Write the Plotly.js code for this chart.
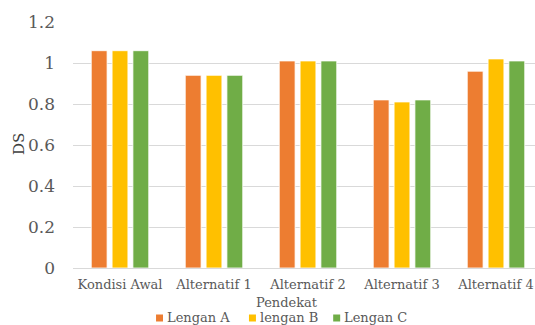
<!DOCTYPE html>
<html>
<head>
<meta charset="utf-8">
<script src="https://cdn.plot.ly/plotly-3.0.1.min.js"></script>
<style>
html,body{margin:0;padding:0;background:#fff;overflow:hidden;}
#chart{width:547px;height:325px;}
</style>
</head>
<body>
<div id="chart"></div>
<script>
var categories = ["Kondisi Awal", "Alternatif 1", "Alternatif 2", "Alternatif 3", "Alternatif 4"];
var seriesNames = ["Lengan A", "lengan B", "Lengan C"];
var lenganA = [1.06, 0.94, 1.01, 0.82, 0.96];
var lenganB = [1.06, 0.94, 1.01, 0.81, 1.02];
var lenganC = [1.06, 0.94, 1.01, 0.82, 1.01];
var yTicks = [0, 0.2, 0.4, 0.6, 0.8, 1, 1.2];
var yTickLabels = ["0", "0.2", "0.4", "0.6", "0.8", "1", "1.2"];
var xTitle = "Pendekat";
var yTitle = "DS";

var colors = ["#ED7D31", "#FFC000", "#70AD47"];
var values = [lenganA, lenganB, lenganC];
var font = "DejaVu Serif";

// plot area in pixels
var PL = 72.6, PR = 543, PT = 22, PB = 268;
function px(x) { return (x - PL) / (PR - PL); }
function py(y) { return (PB - y) / (PB - PT); }

var traces = values.map(function (v, i) {
  return {
    type: "bar",
    x: categories,
    y: v,
    name: seriesNames[i],
    marker: {color: colors[i], line: {color: "#ffffff", width: 0.8}},
    showlegend: false,
    hoverinfo: "x+y+name"
  };
});

// custom legend (small square keys placed close to text, like the original)
var legendKeyX = [155.7, 248.7, 333];
var shapes = [];
var annotations = [{
  text: xTitle,
  xref: "paper", yref: "paper",
  x: px(287), y: py(302),
  xanchor: "center", yanchor: "middle",
  showarrow: false,
  font: {family: font, size: 13, color: "#595959"}
}];
seriesNames.forEach(function (n, i) {
  var kx = legendKeyX[i];
  shapes.push({
    type: "rect", xref: "paper", yref: "paper",
    x0: px(kx), x1: px(kx + 7), y0: py(321.5), y1: py(314.5),
    fillcolor: colors[i], line: {width: 0}
  });
  annotations.push({
    text: n,
    xref: "paper", yref: "paper",
    x: px(kx + 9), y: py(317),
    xanchor: "left", yanchor: "middle",
    showarrow: false,
    font: {family: font, size: 13, color: "#595959"}
  });
});

var layout = {
  width: 547,
  height: 325,
  margin: {l: PL, r: 547 - PR, t: PT, b: 325 - PB, autoexpand: false},
  paper_bgcolor: "#ffffff",
  plot_bgcolor: "#ffffff",
  font: {family: font, size: 14, color: "#595959"},
  barmode: "group",
  bargap: 0.335,
  bargroupgap: 0.24,
  showlegend: false,
  xaxis: {
    type: "category",
    showgrid: false,
    showline: false,
    zeroline: false,
    ticks: "",
    tickfont: {family: font, size: 13, color: "#595959"},
    ticklabelstandoff: 7
  },
  yaxis: {
    range: [0, 1.2],
    tickvals: yTicks,
    ticktext: yTickLabels,
    showgrid: true,
    gridcolor: "#D9D9D9",
    gridwidth: 1,
    zeroline: true,
    zerolinecolor: "#D9D9D9",
    zerolinewidth: 1,
    showline: false,
    ticks: "",
    tickfont: {family: font, size: 17, color: "#595959"},
    ticklabelstandoff: 17
  },
  shapes: shapes,
  annotations: annotations.concat([{
    text: yTitle,
    xref: "paper", yref: "paper",
    x: px(18.5) , y: py(144),
    xanchor: "center", yanchor: "middle",
    textangle: -90,
    showarrow: false,
    font: {family: font, size: 15, color: "#404040"}
  }])
};

Plotly.newPlot("chart", traces, layout, {displayModeBar: false, staticPlot: true});
</script>
</body>
</html>
